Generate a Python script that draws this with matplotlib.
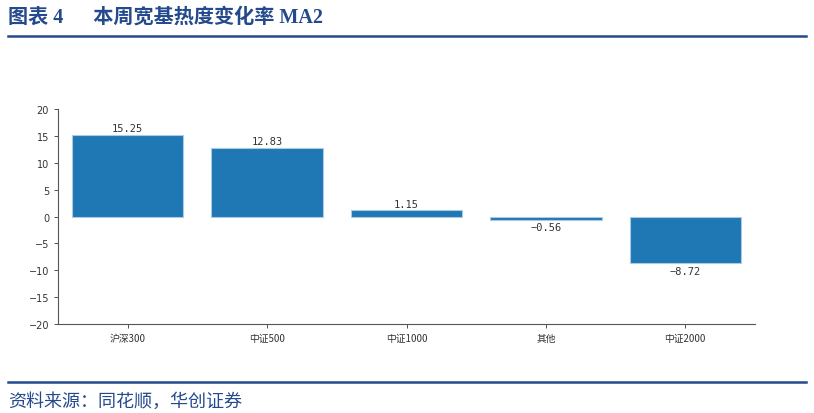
import matplotlib
matplotlib.use("Agg")
import matplotlib.pyplot as plt

# data
categories = ['沪深300', '中证500', '中证1000', '其他', '中证2000']
values = [15.25, 12.83, 1.15, -0.56, -8.72]
yticks = [-20, -15, -10, -5, 0, 5, 10, 15, 20]

plt.rcParams['font.family'] = ['Noto Sans CJK SC', 'DejaVu Sans']
plt.rcParams['axes.unicode_minus'] = True

navy = '#24498c'
bar_color = '#1f77b4'

fig = plt.figure(figsize=(8.14, 4.14), dpi=100)
ax = fig.add_axes([0.0713, 0.215, 0.8562, 0.519])

x = range(len(categories))
bars = ax.bar(x, values, width=0.8, color=bar_color, edgecolor='#a9cbe6', linewidth=0.8)

for xi, v in zip(x, values):
    if v >= 0:
        ax.text(xi, v + 0.3, f'{v:.2f}', ha='center', va='bottom', fontsize=7.5,
                color='#333333', family='DejaVu Sans Mono')
    else:
        ax.text(xi, v - 0.5, f'{v:.2f}'.replace('-', '\u2212'), ha='center', va='top',
                fontsize=7.5, color='#333333', family='DejaVu Sans Mono')

ax.set_xlim(-0.5, len(categories) - 0.5)
ax.set_ylim(-20, 20)
ax.set_yticks(yticks)
ax.set_yticklabels([str(t).replace('-', '\u2212') for t in yticks], family='DejaVu Sans')
ax.set_xticks(list(x))
ax.set_xticklabels(categories)
ax.tick_params(axis='both', labelsize=7, colors='#333333', length=3, width=0.6)
for s in ['top', 'right']:
    ax.spines[s].set_visible(False)
for s in ['left', 'bottom']:
    ax.spines[s].set_color('#555555')
    ax.spines[s].set_linewidth(0.8)

# header and footer
fig.text(0.010, 0.958, '图表 4      本周宽基热度变化率 MA2', fontsize=14.5, fontweight='bold',
         color=navy, ha='left', va='center', family=['Liberation Serif', 'Noto Sans CJK SC'])
fig.add_artist(plt.Line2D([0.010, 0.990], [0.910, 0.910], color=navy, linewidth=1.8))
fig.add_artist(plt.Line2D([0.010, 0.990], [0.075, 0.075], color=navy, linewidth=1.8))
fig.text(0.010, 0.030, '资料来源：同花顺，华创证券', fontsize=13, color=navy,
         ha='left', va='center', style='italic')

fig.savefig('out.png', dpi=100)
